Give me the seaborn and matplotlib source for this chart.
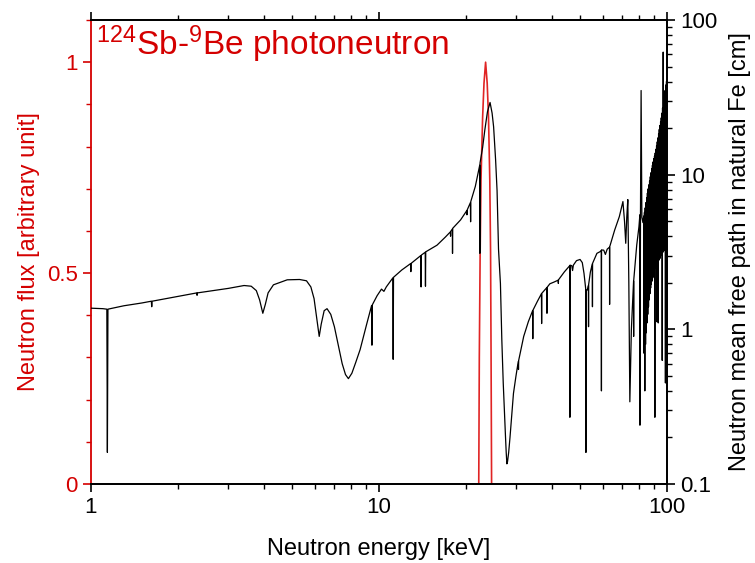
import matplotlib
matplotlib.use("Agg")
import matplotlib.pyplot as plt
import matplotlib.ticker as mticker
import seaborn as sns

# ── Data ──────────────────────────────────────────────────────
# 124Sb-9Be photoneutron line, left axis (arbitrary unit)
flux_energy = [22.2, 22.3, 22.45, 22.6, 22.9, 23.15, 23.45,
               23.75, 24.0, 24.25, 24.4, 24.5, 24.6]
flux_value = [0.0, 0.3, 0.55, 0.72, 0.87, 0.95, 1.0,
              0.95, 0.87, 0.72, 0.55, 0.3, 0.0]

# mean free path in natural Fe [cm], 1 - 14 keV
mfp_low_energy = [1.00, 1.10, 1.135, 1.14, 1.145, 1.30, 1.50, 1.62, 1.625, 1.63,
                  2.00, 2.33, 2.335, 2.34, 3.00, 3.40, 3.60, 3.75, 3.85, 3.95,
                  4.03, 4.12, 4.30, 4.80, 5.30, 5.60, 5.80, 5.95, 6.10, 6.20,
                  6.30, 6.45, 6.60, 6.80, 7.00, 7.20, 7.45, 7.65, 7.83, 8.05,
                  8.30, 8.60, 9.05, 9.42, 9.45, 9.48, 9.85, 10.2, 10.4, 10.6,
                  11.17, 11.2, 11.23, 12.0, 12.87, 12.9, 12.93, 13.97, 14.0, 14.03]
mfp_low_cm = [1.37, 1.36, 1.35, 0.16, 1.35, 1.42, 1.48, 1.52, 1.40, 1.52,
              1.63, 1.72, 1.66, 1.72, 1.84, 1.92, 1.90, 1.78, 1.55, 1.27,
              1.45, 1.72, 1.94, 2.09, 2.10, 2.06, 1.88, 1.58, 1.12, 0.90,
              1.08, 1.32, 1.36, 1.25, 1.04, 0.81, 0.60, 0.51, 0.48, 0.52,
              0.61, 0.74, 1.07, 1.42, 0.79, 1.44, 1.65, 1.82, 1.76, 1.88,
              2.15, 0.64, 2.17, 2.42, 2.66, 2.36, 2.67, 3.00, 1.88, 3.02]

# 14 - 83 keV
mfp_mid_energy = [14.47, 14.5, 14.53, 15.9, 17.0, 17.7, 17.72, 17.74, 17.97, 18.0,
                  18.03, 19.2, 20.17, 20.2, 20.23, 20.77, 20.8, 20.83, 21.6, 22.37,
                  22.4, 22.43, 22.9, 23.3, 23.8, 24.3, 24.7, 25.0, 25.4, 25.7,
                  26.0, 26.4, 26.7, 27.0, 27.3, 27.5, 27.65, 27.8, 27.95, 28.2,
                  28.5, 28.9, 29.3, 29.9, 30.45, 30.5, 30.55, 31.8, 33.0, 34.15,
                  34.2, 34.25, 35.5, 36.65, 36.7, 36.75, 38.25, 38.3, 38.35, 39.2,
                  40.5, 41.9, 41.95, 42.0, 44.0, 45.95, 46.0, 46.05, 46.7, 47.0,
                  47.3, 48.5, 49.9, 50.8, 51.5, 52.0, 52.25, 52.3, 52.35, 53.0,
                  53.35, 53.4, 53.45, 54.2, 55.05, 55.1, 55.15, 57.1, 58.6, 59.15,
                  59.2, 59.25, 60.3, 61.1, 62.0, 63.15, 63.2, 63.25, 65.8, 68.3,
                  70.3, 71.2, 71.9, 72.5, 73.1, 73.7, 74.3, 75.2, 76.55, 76.6,
                  76.65, 78.5, 79.9, 80.5, 80.55, 80.9, 81.3, 81.8, 82.5]
mfp_mid_cm = [3.15, 1.90, 3.17, 3.50, 3.95, 4.27, 4.00, 4.30, 4.45, 3.10,
              4.50, 5.10, 5.85, 5.50, 5.90, 6.60, 4.96, 6.70, 8.40, 11.5,
              3.10, 11.9, 15.0, 19.4, 25.5, 29.3, 25.0, 20.4, 12.5, 7.90,
              3.30, 1.98, 0.85, 0.45, 0.27, 0.20, 0.16, 0.135, 0.14, 0.16,
              0.20, 0.28, 0.385, 0.50, 0.62, 0.55, 0.63, 0.90, 1.12, 1.32,
              0.87, 1.33, 1.52, 1.70, 1.09, 1.71, 1.86, 1.27, 1.87, 1.97,
              2.02, 2.08, 1.98, 2.09, 2.35, 2.58, 0.27, 2.60, 2.58, 2.40,
              2.60, 2.78, 2.83, 2.70, 2.30, 1.95, 1.80, 0.16, 1.79, 1.80,
              1.92, 1.04, 1.95, 2.35, 2.65, 1.40, 2.67, 3.10, 3.18, 3.24,
              0.40, 3.26, 3.25, 3.05, 3.30, 3.40, 1.45, 3.42, 4.38, 5.35,
              6.70, 5.00, 3.60, 5.30, 6.90, 2.00, 0.34, 0.99, 2.05, 0.90,
              2.08, 3.50, 4.60, 5.50, 0.24, 5.80, 35.0, 5.30, 4.90]

# 83 - 100 keV, dense resonance band
mfp_band_energy = [83.0, 83.25, 83.5, 83.75, 84.0, 84.25, 84.5, 84.75, 85.0, 85.25,
                   85.5, 85.75, 86.0, 86.25, 86.5, 86.75, 87.0, 87.25, 87.5, 87.75,
                   88.0, 88.25, 88.5, 88.75, 89.0, 89.25, 89.5, 89.75, 90.0, 90.25,
                   90.5, 90.75, 91.0, 91.25, 91.5, 91.75, 92.0, 92.25, 92.5, 92.75,
                   93.0, 93.25, 93.5, 93.75, 94.0, 94.25, 94.5, 94.75, 95.0, 95.25,
                   95.5, 95.75, 96.0, 96.25, 96.5, 96.75, 97.0, 97.25, 97.5, 97.75,
                   98.0, 98.25, 98.5, 98.75, 99.0, 99.25, 99.5]
mfp_band_cm = [5.4, 0.7, 5.7, 0.40, 6.1, 0.8, 6.6, 0.95, 7.1, 1.1,
               7.6, 1.25, 8.1, 1.4, 8.6, 1.55, 9.1, 1.7, 9.7, 1.85,
               10.3, 1.95, 10.9, 2.05, 11.5, 2.15, 12.1, 2.2, 12.7, 2.3,
               13.2, 0.27, 13.8, 2.5, 14.6, 2.55, 15.4, 1.12, 16.3, 2.65,
               17.3, 1.1, 18.4, 2.8, 19.6, 2.85, 20.8, 2.9, 22.0, 3.0,
               23.3, 3.05, 25.0, 0.63, 27.0, 3.15, 62.0, 3.2, 30.0, 3.25,
               32.0, 3.3, 35.0, 0.45, 38.0, 3.4, 40.0]

xticks = [1, 10, 100]
left_ticks = [0, 0.5, 1]
right_ticks = [0.1, 1, 10, 100]

RED = "#d40000"

# ── Style ─────────────────────────────────────────────────────
sns.set_style("ticks")
plt.rcParams.update({
    "font.family": ["Liberation Sans", "DejaVu Sans"],
    "mathtext.fontset": "custom",
    "mathtext.rm": "Liberation Sans",
    "mathtext.it": "Liberation Sans",
    "axes.linewidth": 1.3,
    "axes.edgecolor": "black",
    "axes.labelcolor": "black",
    "text.color": "black",
    "xtick.color": "black",
    "ytick.color": "black",
})

fig = plt.figure(figsize=(7.55, 5.63), dpi=100)
ax = fig.add_axes([91 / 755, 79 / 563, 576 / 755, 464 / 563])
ax2 = ax.twinx()

# red source spectrum (left axis)
sns.lineplot(x=flux_energy, y=flux_value, ax=ax, color="#e02424",
             lw=1.2, sort=False, estimator=None)

# black mean free path (right axis)
mfp_energy = mfp_low_energy + mfp_mid_energy + mfp_band_energy
mfp_cm = mfp_low_cm + mfp_mid_cm + mfp_band_cm
sns.lineplot(x=mfp_energy, y=mfp_cm, ax=ax2, color="black",
             lw=0.9, sort=False, estimator=None)

# x axis
ax.set_xscale("log")
ax.set_xlim(1, 100)
ax.set_xticks(xticks)
ax.xaxis.set_major_formatter(mticker.FuncFormatter(lambda v, p: f"{v:g}"))
ax.xaxis.set_minor_locator(mticker.LogLocator(base=10, subs=range(2, 10)))
ax.xaxis.set_minor_formatter(mticker.NullFormatter())
ax.set_xlabel("Neutron energy [keV]", fontsize=17, labelpad=14)

# left axis
ax.set_ylim(0, 1.1)
ax.set_yticks(left_ticks)
ax.set_yticklabels(["0", "0.5", "1"])
ax.yaxis.set_minor_locator(mticker.MultipleLocator(0.1))
ax.set_ylabel("Neutron flux [arbitrary unit]", fontsize=17, color=RED, labelpad=5)
ax.spines["left"].set_color(RED)
ax.tick_params(axis="y", which="both", colors=RED)

# right axis
ax2.set_yscale("log")
ax2.set_ylim(0.1, 100)
ax2.set_yticks(right_ticks)
ax2.yaxis.set_major_formatter(mticker.FuncFormatter(lambda v, p: f"{v:g}"))
ax2.yaxis.set_minor_locator(mticker.LogLocator(base=10, subs=range(2, 10)))
ax2.yaxis.set_minor_formatter(mticker.NullFormatter())
ax2.set_ylabel("Neutron mean free path in natural Fe [cm]", fontsize=17, labelpad=8)
ax2.spines["left"].set_visible(False)

for a in (ax, ax2):
    a.tick_params(which="major", direction="out", length=6, width=1.2, labelsize=16)
    a.tick_params(which="minor", direction="out", length=3.5, width=1.0)
ax.tick_params(axis="x", which="both", top=True)

ax.text(0.008, 0.925, r"$^{124}$Sb-$^{9}$Be photoneutron", transform=ax.transAxes,
        fontsize=24, color=RED, ha="left", va="baseline")

fig.savefig("out.png", dpi=100)
